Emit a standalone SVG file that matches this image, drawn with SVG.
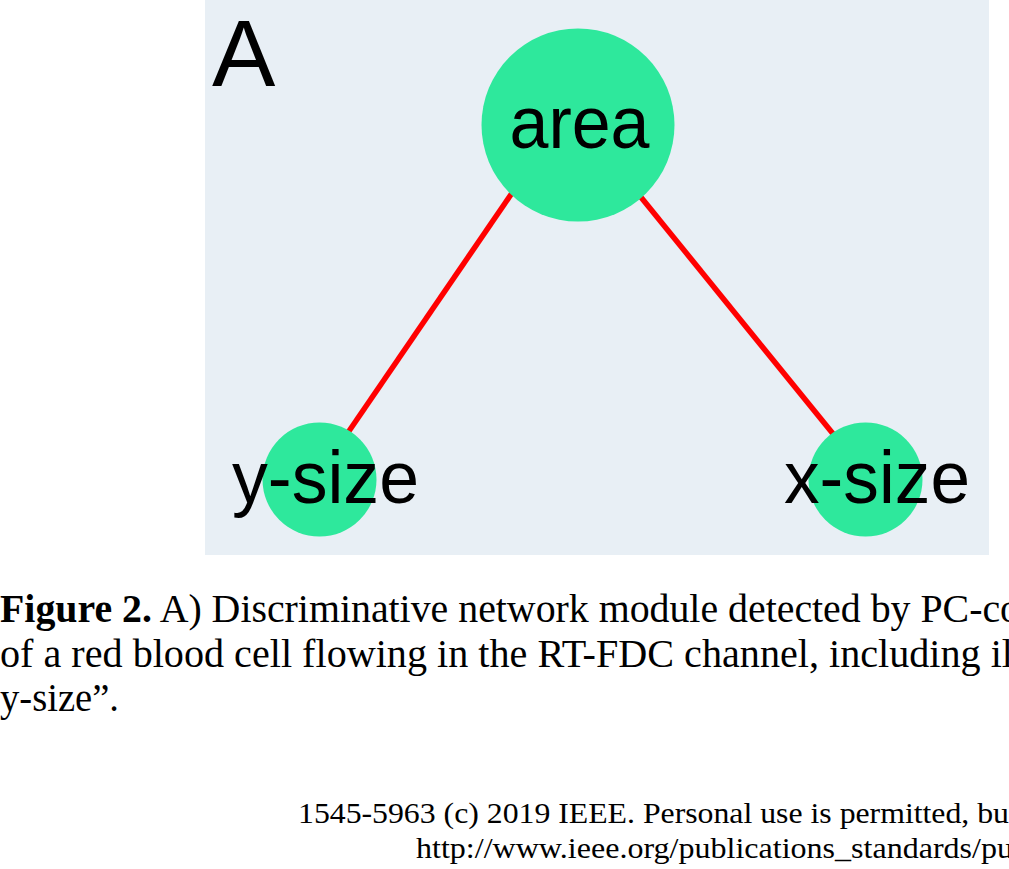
<svg xmlns="http://www.w3.org/2000/svg" width="1009" height="869" viewBox="0 0 1009 869">
<style>
.node{fill:#2ee89c}
.lbl{font-family:"Liberation Sans",Arial,sans-serif;fill:#000;text-anchor:middle}
.edge{stroke:#ff0000;stroke-width:5.5;fill:none}
.cap{font-family:"Liberation Serif","Times New Roman",serif;fill:#000}
</style>
<rect x="0" y="0" width="1009" height="869" fill="#ffffff"/>
<rect x="205" y="0" width="784" height="555" fill="#e8eff5"/>
<text x="212" y="86" font-family="Liberation Sans, Arial, sans-serif" font-size="95" fill="#000">A</text>
<g id="connectors">
<line class="edge" x1="512" y1="193" x2="347" y2="434"/>
<line class="edge" x1="640" y1="196" x2="834" y2="435"/>
</g>
<g id="area">
<circle class="node" cx="578" cy="125" r="96.5"/>
<text x="579.5" y="148" class="lbl" font-size="75" textLength="140" lengthAdjust="spacingAndGlyphs">area</text>
</g>
<g id="y-size">
<circle class="node" cx="319.5" cy="479.5" r="57"/>
<text x="325.5" y="503" class="lbl" font-size="75" textLength="187" lengthAdjust="spacingAndGlyphs">y-size</text>
</g>
<g id="x-size">
<circle class="node" cx="865.5" cy="479.5" r="57"/>
<text x="877" y="503" class="lbl" font-size="75" textLength="186" lengthAdjust="spacingAndGlyphs">x-size</text>
</g>
<text x="0" y="622" class="cap" font-size="39" textLength="1020" lengthAdjust="spacingAndGlyphs"><tspan font-weight="bold">Figure 2.</tspan> A) Discriminative network module detected by PC-co</text>
<text x="0" y="667" class="cap" font-size="39" textLength="1013" lengthAdjust="spacingAndGlyphs">of a red blood cell flowing in the RT-FDC channel, including il</text>
<text x="0" y="711" class="cap" font-size="39" textLength="119" lengthAdjust="spacingAndGlyphs">y-size”.</text>
<text x="298" y="823" class="cap" font-size="29" textLength="711" lengthAdjust="spacingAndGlyphs">1545-5963 (c) 2019 IEEE. Personal use is permitted, bu</text>
<text x="416" y="858" class="cap" font-size="29" textLength="597" lengthAdjust="spacingAndGlyphs">http://www.ieee.org/publications_standards/pu</text>
</svg>
